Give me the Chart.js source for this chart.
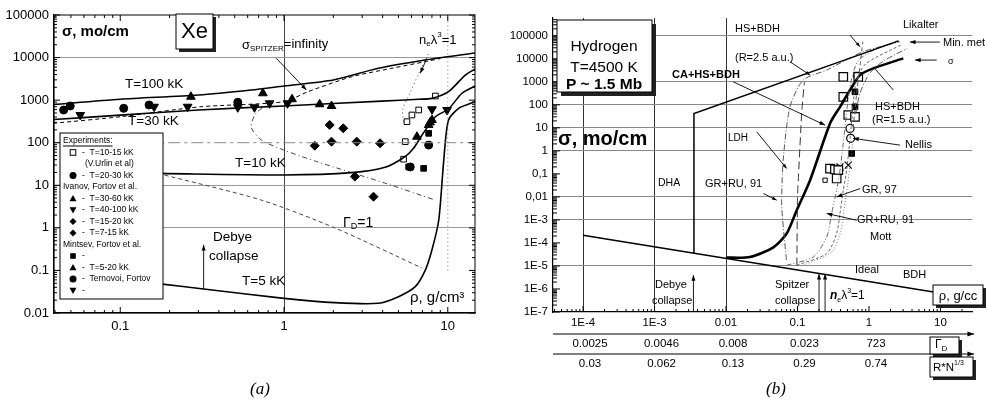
<!DOCTYPE html>
<html>
<head>
<meta charset="utf-8">
<script src="https://cdn.jsdelivr.net/npm/chart.js@4"></script>
<style>
  html, body { margin: 0; padding: 0; background: #fff; }
  #wrap { position: relative; width: 987px; height: 403px; }
  #wrap canvas { position: absolute; left: 0; top: 0; }
</style>
</head>
<body>
<div id="wrap">
  <canvas id="xeChart" width="987" height="403"></canvas>
  <canvas id="h2Chart" width="987" height="403"></canvas>
</div>
<script>
const FONT = "'Liberation Sans', Arial, sans-serif";
Chart.defaults.font.family = FONT;
Chart.defaults.color = '#000';

// ---------- (a) Xe ----------
const xeTickValsX = [0.1, 1, 10];
const xeTickLabelsX = ['0.1', '1', '10'];
const xeTickValsY = [0.01, 0.1, 1, 10, 100, 1000, 10000, 100000];
const xeTickLabelsY = ['0.01', '0.1', '1', '10', '100', '1000', '10000', '100000'];
const xeGridY = [1, 10, 10000];
const xeGridX = [1];

const t100Rho = [0.039, 0.1, 0.3, 0.63, 1, 2, 3.77, 7.26, 15];
const t100Sig = [790, 1050, 1320, 1730, 2150, 2970, 5600, 8770, 13000];
const t30Rho = [0.039, 0.1, 0.3, 1, 3.95, 6.64, 8.0, 10.1, 12.8, 15];
const t30Sig = [350, 445, 587, 730, 950, 1050, 1100, 1580, 3890, 5600];
const t10Rho = [0.17, 1, 2.59, 4.14, 5.47, 6.18, 6.95, 8.4, 10.1, 12.2, 14.4, 15];
const t10Sig = [19, 17.5, 19.8, 26.4, 46.9, 74, 150, 407, 620, 1450, 2070, 2200];
const t5Rho = [0.17, 0.323, 1, 2.04, 3.77, 5.0, 6.33, 7.29, 8.0, 8.81, 9.45, 10.1, 11.7, 13.8, 15];
const t5Sig = [0.049, 0.0366, 0.0221, 0.0175, 0.0169, 0.0242, 0.0415, 0.102, 0.302, 1.53, 39, 340, 650, 843, 950];
const spitzerRho = [0.039, 0.1, 0.311, 1, 1.4, 2.59, 4.55, 7.26, 9];
const spitzerSig = [286, 407, 700, 918, 1580, 3550, 5600, 8000, 9500];
const spitzerLoopRho = [0.85, 0.676, 0.63, 0.726, 1, 1.62, 4.12, 8.36];
const spitzerLoopSig = [918, 499, 234, 116, 67, 35, 11.3, 4.5];
const gammaRho = [0.17, 0.726, 2.04, 6.95];
const gammaSig = [19, 4.5, 1, 0.114];
const neLamRho = [7.6, 6.6, 5.9, 5.3, 5.4];
const neLamSig = [12000, 4000, 1500, 600, 280];
const xeHLineRho = [0.039, 15];
const xeHLineSig = [100, 100];
const xeVLineRho = [10, 10];
const xeVLineSig = [0.1, 100000];

const xeOpenSqRho = [8.4, 6.64, 6.04, 5.63, 5.5, 5.37];
const xeOpenSqSig = [1250, 587, 448, 312, 106, 41];
const xeCircleRho = [0.0451, 0.0495, 0.105, 0.15, 0.522, 7.64, 5.9];
const xeCircleSig = [587, 728, 643, 770, 890, 88, 27];
const xeTriUpRho = [0.27, 0.743, 1.12, 1.65, 1.95, 7.64, 8.01, 7.8, 6.48];
const xeTriUpSig = [1200, 1450, 1050, 800, 728, 260, 341, 300, 138];
const xeTriDownRho = [0.057, 0.161, 0.258, 0.522, 0.66, 0.816, 1.05, 9.9, 8.01];
const xeTriDownSig = [448, 700, 700, 680, 680, 843, 843, 587, 610];
const xeDiamondRho = [1.9, 2.3, 1.54, 1.95, 2.78, 3.86, 2.71, 3.52];
const xeDiamondSig = [261, 218, 85, 106, 106, 97, 16, 5.4];
const xeSquareRho = [7.64, 5.77, 7.12];
const xeSquareSig = [166, 27, 25];

const xeArrows = [
  [[0.897, 9620], [1.37, 1730]],
  [[7.46, 9620], [6.79, 4270]],
  [[0.323, 0.0366], [0.323, 0.4]]
];

const xeLegendRows = [
  ['', 'Experiments:'],
  ['openSquare', '-  T=10-15 kK'],
  ['', '(V.Urlin et al)'],
  ['circle', '-  T=20-30 kK'],
  ['', 'Ivanov, Fortov et al.'],
  ['triangle', '-  T=30-60 kK'],
  ['triangleDown', '-  T=40-100 kK'],
  ['diamond', '-  T=15-20 kK'],
  ['diamond', '-  T=7-15 kK'],
  ['', 'Mintsev, Fortov et al.'],
  ['square', '-'],
  ['triangle', '-  T=5-20 kK'],
  ['circle', '-  Ternovoi, Fortov'],
  ['triangleDown', '-']
];

// ---------- (b) Hydrogen ----------
const h2TickValsX = [1e-4, 1e-3, 0.01, 0.1, 1, 10];
const h2TickLabelsX = ['1E-4', '1E-3', '0.01', '0.1', '1', '10'];
const h2TickValsY = [1e-7, 1e-6, 1e-5, 1e-4, 1e-3, 0.01, 0.1, 1, 10, 100, 1000, 10000, 100000];
const h2TickLabelsY = ['1E-7', '1E-6', '1E-5', '1E-4', '1E-3', '0,01', '0,1', '1', '10', '100', '1000', '10000', '100000'];
const h2GridY = [1e-5, 1e-3, 0.01, 1, 10, 100, 1000, 100000];
const h2GridX = [1e-4, 1e-3, 0.01];
const gammaDRow = ['0.0025', '0.0046', '0.008', '0.023', '723'];
const rnRow = ['0.03', '0.062', '0.13', '0.29', '0.74'];

const bdhRho = [1e-4, 8];
const bdhSig = [2.16e-4, 7.4e-7];
const dhaRho = [3.56e-3, 3.56e-3, 2.6];
const dhaSig = [3.5e-5, 42, 60000];
const caRho = [0.01, 0.0217, 0.0454, 0.0706, 0.0975, 0.15, 0.285, 0.394, 0.543, 0.749, 1.15, 3.02];
const caSig = [2.3e-5, 2.45e-5, 6.3e-5, 2.57e-4, 2.64e-3, 0.053, 15.5, 82, 437, 1950, 3830, 10400];
const hs25Rho = [0.07, 0.062, 0.06, 0.063, 0.0785, 0.12, 0.256, 0.82, 2.7];
const hs25Sig = [1.8e-5, 1e-3, 5e-3, 0.39, 82, 1190, 3230, 20000, 55000];
const ldhRho = [0.098, 0.1, 0.115, 0.125];
const ldhSig = [1.07e-5, 0.01, 59, 1000];
const hs15Rho = [0.65, 0.748, 1.02, 1.6, 3.4];
const hs15Sig = [40, 316, 2330, 8000, 28000];
const likRho = [0.6, 0.673, 0.75, 0.82];
const likSig = [10, 316, 5000, 55000];
const grru91Rho = [0.0706, 0.166, 0.256, 0.3, 0.353, 0.393, 0.45, 0.5, 0.56, 0.7, 1.2, 2.5];
const grru91Sig = [1.07e-5, 2.45e-5, 1.8e-4, 1.9e-3, 0.0195, 0.145, 5, 100, 1000, 8000, 25000, 60000];
const gr97Rho = [0.098, 0.256, 0.353, 0.393, 0.437, 0.487, 0.55, 0.6, 0.66, 0.9, 2.8];
const gr97Sig = [1.07e-5, 3.5e-5, 2.6e-4, 1.9e-3, 0.0195, 0.145, 5, 100, 1000, 6000, 40000];
const mottRho = [0.12, 0.3, 0.4, 0.45, 0.5, 0.55, 0.6];
const mottSig = [1.07e-5, 4e-5, 3e-4, 3e-3, 0.03, 0.3, 3];

const h2OpenSqRho = [0.437, 0.708, 0.437, 0.513, 0.637, 0.285, 0.334, 0.372, 0.353];
const h2OpenSqSig = [1650, 1650, 223, 36, 30, 0.17, 0.155, 0.145, 0.063];
const h2SmallSqRho = [0.243];
const h2SmallSqSig = [0.053];
const h2FilledRho = [0.673, 0.637, 0.573, 0.637];
const h2FilledSig = [1950, 367, 0.77, 82];
const nellisRho = [0.542, 0.554];
const nellisSig = [9.4, 3.5];
const h2CrossRho = [0.513, 0.393];
const h2CrossSig = [0.24, 0.2];

const h2Arrows = [
  [[0.542, 1.07e5], [0.748, 33000], 5],
  [[9.8, 53000], [3.74, 53000], 6],
  [[8.85, 8770], [4.4, 8770], 6],
  [[2.19, 437], [1.15, 4490], 0],
  [[0.0785, 7400], [0.15, 1950], 5],
  [[0.0126, 1000], [0.243, 13.1], 6],
  [[0.0269, 6.7], [0.0706, 0.17], 5],
  [[2.72, 1.77], [0.6, 3.5], 6],
  [[0.0333, 0.014], [0.0512, 0.0072], 5],
  [[0.748, 0.023], [0.353, 0.01], 6],
  [[0.673, 9.7e-4], [0.256, 1.9e-3], 6],
  [[3.5e-3, 1e-7], [3.5e-3, 4e-6], 6],
  [[0.2, 1e-7], [0.2, 4.5e-6], 6],
  [[0.243, 1e-7], [0.243, 4.5e-6], 6]
];

// ---------- helpers ----------
function pts(xs, ys) { return xs.map((x, i) => ({ x: x, y: ys[i] })); }

function curve(data, opts) {
  return Object.assign({ type: 'scatter', data: data, showLine: true, pointRadius: 0,
    borderColor: '#000', borderWidth: 1.6, fill: false, tension: 0.25 }, opts);
}
function marks(data, style, opts) {
  return Object.assign({ type: 'scatter', data: data, showLine: false, pointStyle: style,
    pointRadius: 4.5, backgroundColor: '#000', borderColor: '#000', borderWidth: 1 }, opts);
}

function edgeTicks(ctx, scale, side, a, big, small) {
  const lo = Math.floor(Math.log10(scale.min)), hi = Math.ceil(Math.log10(scale.max));
  ctx.beginPath();
  for (let d = lo; d <= hi; d++) {
    for (let k = 1; k <= 9; k++) {
      const v = k * Math.pow(10, d);
      if (v < scale.min || v > scale.max) continue;
      const p = scale.getPixelForValue(v);
      const len = k === 1 ? big : small;
      if (side === 'left') { ctx.moveTo(a.left, p); ctx.lineTo(a.left + len, p); }
      if (side === 'right') { ctx.moveTo(a.right, p); ctx.lineTo(a.right - len, p); }
      if (side === 'bottom') { ctx.moveTo(p, a.bottom); ctx.lineTo(p, a.bottom - len); }
      if (side === 'top') { ctx.moveTo(p, a.top); ctx.lineTo(p, a.top + len); }
    }
  }
  ctx.stroke();
}

function arrow(ctx, x1, y1, x2, y2, head) {
  ctx.beginPath(); ctx.moveTo(x1, y1); ctx.lineTo(x2, y2); ctx.stroke();
  if (!head) return;
  const ang = Math.atan2(y2 - y1, x2 - x1);
  ctx.beginPath();
  ctx.moveTo(x2, y2);
  ctx.lineTo(x2 - head * Math.cos(ang - 0.35), y2 - head * Math.sin(ang - 0.35));
  ctx.lineTo(x2 - head * Math.cos(ang + 0.35), y2 - head * Math.sin(ang + 0.35));
  ctx.closePath(); ctx.fill();
}

function dataArrows(chart, list, defHead) {
  const ctx = chart.ctx, sx = chart.scales.x, sy = chart.scales.y;
  ctx.strokeStyle = '#000'; ctx.fillStyle = '#000'; ctx.lineWidth = 0.9;
  list.forEach(ar => {
    arrow(ctx, sx.getPixelForValue(ar[0][0]), sy.getPixelForValue(ar[0][1]),
      sx.getPixelForValue(ar[1][0]), sy.getPixelForValue(ar[1][1]), ar[2] === undefined ? defHead : ar[2]);
  });
}

function rich(ctx, x, y, parts) {
  parts.forEach(p => {
    ctx.font = p[1] + ' ' + FONT;
    ctx.fillText(p[0], x, y + (p[2] || 0));
    x += ctx.measureText(p[0]).width;
  });
}

function texts(ctx, list) {
  ctx.fillStyle = '#000'; ctx.textBaseline = 'middle'; ctx.textAlign = 'left';
  list.forEach(l => { ctx.font = l.f + ' ' + FONT; ctx.fillText(l.t, l.x, l.y); });
}

function shadowBox(ctx, x, y, w, h, off) {
  ctx.fillStyle = '#222';
  ctx.fillRect(x + off, y + off, w, h);
  ctx.fillStyle = '#fff';
  ctx.fillRect(x, y, w, h);
  ctx.strokeStyle = '#000'; ctx.lineWidth = 1;
  ctx.strokeRect(x, y, w, h);
}

function marker(ctx, kind, x, y, r) {
  ctx.fillStyle = '#000'; ctx.strokeStyle = '#000'; ctx.lineWidth = 1;
  ctx.beginPath();
  if (kind === 'circle') { ctx.arc(x, y, r, 0, Math.PI * 2); ctx.fill(); }
  if (kind === 'square') { ctx.fillRect(x - r * 0.8, y - r * 0.8, r * 1.6, r * 1.6); }
  if (kind === 'openSquare') { ctx.strokeRect(x - r * 0.8, y - r * 0.8, r * 1.6, r * 1.6); }
  if (kind === 'triangle') { ctx.moveTo(x, y - r); ctx.lineTo(x + r, y + r * 0.8); ctx.lineTo(x - r, y + r * 0.8); ctx.closePath(); ctx.fill(); }
  if (kind === 'triangleDown') { ctx.moveTo(x, y + r); ctx.lineTo(x + r, y - r * 0.8); ctx.lineTo(x - r, y - r * 0.8); ctx.closePath(); ctx.fill(); }
  if (kind === 'diamond') { ctx.moveTo(x, y - r); ctx.lineTo(x + r, y); ctx.lineTo(x, y + r); ctx.lineTo(x - r, y); ctx.closePath(); ctx.fill(); }
}

function logAxis(min, max, vals, labels, fit, pad, fontSize, gridVals, gridColor) {
  return {
    type: 'logarithmic', min: min, max: max, bounds: 'data',
    afterBuildTicks: s => { s.ticks = vals.map(v => ({ value: v })); },
    afterFit: fit,
    ticks: { autoSkip: false, maxRotation: 0, padding: pad, font: { size: fontSize },
      callback: (v, i) => labels[i] },
    grid: { drawTicks: false, lineWidth: 1,
      color: c => (c.tick && gridVals.some(g => Math.abs(g / c.tick.value - 1) < 1e-6)) ? gridColor : 'rgba(0,0,0,0)' },
    border: { display: true, color: '#000', width: 1.2 }
  };
}

// ---------- chart (a) ----------
const xeLabels = [
  { t: 'T=100 kK', x: 125, y: 84, f: '13.5px' },
  { t: 'T=30 kK', x: 128, y: 121, f: '13.5px' },
  { t: 'T=10 kK', x: 235, y: 163, f: '13.5px' },
  { t: 'T=5 kK', x: 242, y: 281, f: '13.5px' },
  { t: 'Debye', x: 213, y: 237, f: '13.5px' },
  { t: 'collapse', x: 209, y: 256, f: '13.5px' },
  { t: 'ρ, g/cm³', x: 410, y: 298, f: '15px' },
  { t: 'σ, mo/cm', x: 62, y: 32, f: 'bold 15px' }
];

const xePlugin = {
  id: 'xeDeco',
  afterDatasetsDraw(chart) {
    const ctx = chart.ctx, a = chart.chartArea, sx = chart.scales.x, sy = chart.scales.y;
    ctx.save();
    ctx.strokeStyle = '#000'; ctx.lineWidth = 1;
    ctx.strokeRect(a.left, a.top, a.right - a.left, a.bottom - a.top);
    edgeTicks(ctx, sx, 'bottom', a, 6, 3);
    edgeTicks(ctx, sx, 'top', a, 6, 3);
    edgeTicks(ctx, sy, 'left', a, 6, 3);
    edgeTicks(ctx, sy, 'right', a, 6, 3);
    dataArrows(chart, xeArrows, 6);
    texts(ctx, xeLabels);
    rich(ctx, 242, 45, [['σ', '13px'], ['SPITZER', '8px', 4], ['=infinity', '13px', -1]]);
    rich(ctx, 419, 40, [['n', '13px'], ['e', '8px', 4], ['λ', '13px'], ['3', '8px', -5], ['=1', '13px']]);
    rich(ctx, 343, 223, [['Γ', '14px'], ['D', '9px', 4], ['=1', '14px']]);
    // Xe box
    shadowBox(ctx, 176, 14, 37, 35, 3);
    ctx.fillStyle = '#000'; ctx.textAlign = 'center'; ctx.textBaseline = 'middle';
    ctx.font = '22px ' + FONT; ctx.fillText('Xe', 194.5, 32);
    // legend
    ctx.fillStyle = '#fff'; ctx.fillRect(60, 133, 103, 166);
    ctx.strokeStyle = '#000'; ctx.lineWidth = 1; ctx.strokeRect(60, 133, 103, 166);
    ctx.textAlign = 'left';
    xeLegendRows.forEach((row, i) => {
      const y = 141 + i * 11.5;
      ctx.fillStyle = '#000'; ctx.font = '8.5px ' + FONT;
      if (row[0]) { marker(ctx, row[0], 73, y, 3.5); ctx.fillStyle = '#000'; ctx.fillText(row[1], 82, y); }
      else if (i === 2) { ctx.fillText(row[1], 85, y); }
      else { ctx.fillText(row[1], 63, y); }
      if (i === 0) { ctx.beginPath(); ctx.moveTo(63, y + 5); ctx.lineTo(63 + ctx.measureText(row[1]).width, y + 5); ctx.stroke(); }
    });
    // caption
    ctx.textAlign = 'center'; ctx.font = "italic 17px 'Liberation Serif', serif";
    ctx.fillText('(a)', 260, 390);
    ctx.restore();
  }
};

new Chart(document.getElementById('xeChart'), {
  type: 'scatter',
  data: {
    datasets: [
      curve(pts(xeHLineRho, xeHLineSig), { borderColor: '#888', borderWidth: 1, borderDash: [12, 4, 3, 4], tension: 0 }),
      curve(pts(xeVLineRho, xeVLineSig), { borderColor: '#777', borderWidth: 1, borderDash: [1, 3], tension: 0 }),
      curve(pts(t100Rho, t100Sig)),
      curve(pts(t30Rho, t30Sig)),
      curve(pts(t10Rho, t10Sig)),
      curve(pts(t5Rho, t5Sig)),
      curve(pts(spitzerRho, spitzerSig), { borderWidth: 1, borderDash: [4, 3] }),
      curve(pts(spitzerLoopRho, spitzerLoopSig), { borderWidth: 1, borderColor: '#444', borderDash: [5, 3, 1, 3] }),
      curve(pts(gammaRho, gammaSig), { borderWidth: 1, borderColor: '#444', borderDash: [4, 3] }),
      curve(pts(neLamRho, neLamSig), { borderWidth: 1, borderColor: '#444', borderDash: [1, 3] }),
      marks(pts(xeOpenSqRho, xeOpenSqSig), 'rect', { backgroundColor: '#fff', pointRadius: 4 }),
      marks(pts(xeCircleRho, xeCircleSig), 'circle', { pointRadius: 4 }),
      marks(pts(xeTriUpRho, xeTriUpSig), 'triangle', { pointRadius: 5 }),
      marks(pts(xeTriDownRho, xeTriDownSig), 'triangle', { pointRadius: 5, rotation: 180 }),
      marks(pts(xeDiamondRho, xeDiamondSig), 'rectRot', { pointRadius: 4.5 }),
      marks(pts(xeSquareRho, xeSquareSig), 'rect', { pointRadius: 4 })
    ]
  },
  options: {
    responsive: false, animation: false, events: [],
    layout: { padding: { left: 0, right: 512, top: 15, bottom: 68 } },
    plugins: { legend: { display: false }, tooltip: { enabled: false } },
    scales: {
      x: logAxis(0.0394, 14.66, xeTickValsX, xeTickLabelsX, s => { s.height = 22; }, 6, 13, xeGridX, '#444'),
      y: logAxis(0.01, 100000, xeTickValsY, xeTickLabelsY, s => { s.width = 54; }, 5, 13, xeGridY, '#999')
    }
  },
  plugins: [xePlugin]
});

// ---------- chart (b) ----------
const h2Labels = [
  { t: 'HS+BDH', x: 735, y: 29, f: '11px' },
  { t: '(R=2.5 a.u.)', x: 735, y: 58, f: '11px' },
  { t: 'Likalter', x: 903, y: 25, f: '11px' },
  { t: 'Min. met', x: 943, y: 43, f: '11px' },
  { t: 'σ', x: 948, y: 62, f: '9px' },
  { t: 'CA+HS+BDH', x: 672, y: 75, f: 'bold 11px' },
  { t: 'HS+BDH', x: 875, y: 107, f: '11px' },
  { t: '(R=1.5 a.u.)', x: 872, y: 120, f: '11px' },
  { t: 'Nellis', x: 905, y: 145, f: '11px' },
  { t: 'LDH', x: 728, y: 138, f: '10px' },
  { t: 'DHA', x: 658, y: 183, f: '10.5px' },
  { t: 'GR+RU, 91', x: 705, y: 184, f: '11px' },
  { t: 'GR, 97', x: 862, y: 190, f: '11px' },
  { t: 'GR+RU, 91', x: 857, y: 220, f: '11px' },
  { t: 'Mott', x: 870, y: 237, f: '11px' },
  { t: 'Ideal', x: 855, y: 270, f: '11px' },
  { t: 'BDH', x: 903, y: 275, f: '11px' },
  { t: 'Debye', x: 655, y: 285, f: '11px' },
  { t: 'collapse', x: 652, y: 301, f: '11px' },
  { t: 'Spitzer', x: 775, y: 285, f: '11px' },
  { t: 'collapse', x: 775, y: 301, f: '11px' }
];

const h2Plugin = {
  id: 'h2Deco',
  afterDatasetsDraw(chart) {
    const ctx = chart.ctx, a = chart.chartArea, sx = chart.scales.x, sy = chart.scales.y;
    ctx.save();
    ctx.strokeStyle = '#000'; ctx.lineWidth = 1;
    edgeTicks(ctx, sy, 'left', a, 7, 4);
    edgeTicks(ctx, sx, 'bottom', a, 6, 3);
    dataArrows(chart, h2Arrows, 6);
    texts(ctx, h2Labels);
    rich(ctx, 830, 296, [['n', 'italic bold 12px'], ['e', '7px', 4], ['λ', '12px'], ['3', '7px', -5], ['=1', '12px']]);
    // Hydrogen box
    shadowBox(ctx, 557, 20, 95, 72, 4);
    ctx.fillStyle = '#000'; ctx.textAlign = 'center'; ctx.textBaseline = 'middle';
    ctx.font = '15.5px ' + FONT; ctx.fillText('Hydrogen', 604, 47); ctx.fillText('T=4500 K', 604, 68);
    ctx.font = 'bold 15.5px ' + FONT; ctx.fillText('P ~ 1.5 Mb', 604, 85);
    ctx.textAlign = 'left'; ctx.font = 'bold 20px ' + FONT; ctx.fillText('σ, mo/cm', 558, 139);
    // rho box
    shadowBox(ctx, 933, 285, 50, 20, 3);
    ctx.fillStyle = '#000'; ctx.textAlign = 'center'; ctx.font = '13px ' + FONT;
    ctx.fillText('ρ, g/cc', 958, 296);
    // rows under the axis
    ctx.strokeStyle = '#000'; ctx.fillStyle = '#000'; ctx.lineWidth = 1;
    arrow(ctx, 553, 334, 974, 334, 7);
    arrow(ctx, 553, 354, 974, 354, 7);
    ctx.font = '11.5px ' + FONT; ctx.textAlign = 'center';
    gammaDRow.forEach((t, i) => ctx.fillText(t, sx.getPixelForValue(h2TickValsX[i]) + 7, 344));
    rnRow.forEach((t, i) => ctx.fillText(t, sx.getPixelForValue(h2TickValsX[i]) + 7, 364));
    shadowBox(ctx, 930, 337, 29, 17, 3);
    ctx.fillStyle = '#000'; ctx.textAlign = 'left';
    rich(ctx, 935, 345, [['Γ', '12px'], ['D', '8px', 4]]);
    shadowBox(ctx, 930, 357, 43, 20, 3);
    ctx.fillStyle = '#000';
    rich(ctx, 933, 368, [['R*N', '11.5px'], ['1/3', '7px', -5]]);
    // caption
    ctx.textAlign = 'center'; ctx.font = "italic 17px 'Liberation Serif', serif";
    ctx.fillText('(b)', 776, 390);
    ctx.restore();
  }
};

new Chart(document.getElementById('h2Chart'), {
  type: 'scatter',
  data: {
    datasets: [
      curve(pts(bdhRho, bdhSig), { tension: 0, borderWidth: 1.5 }),
      curve(pts(dhaRho, dhaSig), { tension: 0, borderWidth: 1.5 }),
      curve(pts(hs25Rho, hs25Sig), { borderWidth: 1, borderColor: '#555', borderDash: [6, 2, 1, 2] }),
      curve(pts(ldhRho, ldhSig), { borderWidth: 1, borderColor: '#333', borderDash: [8, 4], tension: 0.1 }),
      curve(pts(hs15Rho, hs15Sig), { borderWidth: 1, borderColor: '#555', borderDash: [6, 2, 1, 2] }),
      curve(pts(likRho, likSig), { borderWidth: 1, borderColor: '#555', borderDash: [4, 3] }),
      curve(pts(grru91Rho, grru91Sig), { borderWidth: 1, borderColor: '#666', borderDash: [5, 2, 1, 2, 1, 2] }),
      curve(pts(gr97Rho, gr97Sig), { borderWidth: 1, borderColor: '#666', borderDash: [3, 2] }),
      curve(pts(mottRho, mottSig), { borderWidth: 1, borderColor: '#777', borderDash: [1, 2] }),
      curve(pts(caRho, caSig), { borderWidth: 2.6 }),
      marks(pts(h2OpenSqRho, h2OpenSqSig), 'rect', { backgroundColor: '#fff', pointRadius: 6, borderWidth: 1.2 }),
      marks(pts(h2SmallSqRho, h2SmallSqSig), 'rect', { backgroundColor: '#fff', pointRadius: 3 }),
      marks(pts(h2FilledRho, h2FilledSig), 'rect', { pointRadius: 4 }),
      marks(pts(nellisRho, nellisSig), 'circle', { backgroundColor: '#fff', pointRadius: 4, borderWidth: 1.2 }),
      marks(pts(h2CrossRho, h2CrossSig), 'crossRot', { pointRadius: 5, borderWidth: 1.2 })
    ]
  },
  options: {
    responsive: false, animation: false, events: [],
    layout: { padding: { left: 503, right: 15, top: 18, bottom: 71 } },
    plugins: { legend: { display: false }, tooltip: { enabled: false } },
    scales: {
      x: logAxis(3.8e-5, 27.6, h2TickValsX, h2TickLabelsX, s => { s.height = 20; }, 4, 11.5, h2GridX, '#333'),
      y: logAxis(1e-7, 5.9e5, h2TickValsY, h2TickLabelsY, s => { s.width = 50; }, 5, 11.5, h2GridY, '#888')
    }
  },
  plugins: [h2Plugin]
});
</script>
</body>
</html>
